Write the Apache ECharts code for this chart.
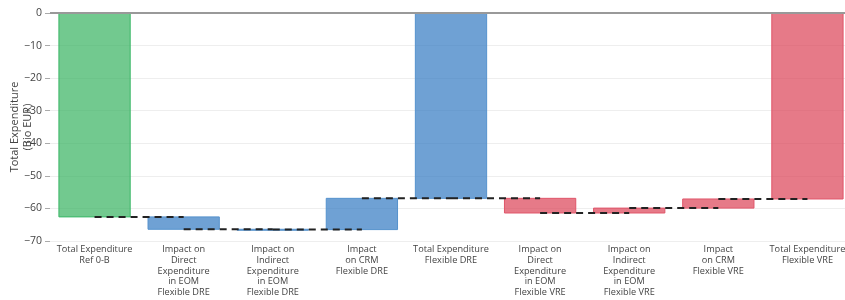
<!DOCTYPE html>
<html>
<head>
<meta charset="utf-8">
<script src="https://cdn.jsdelivr.net/npm/echarts@6/dist/echarts.min.js"></script>
<style>
  html, body { margin: 0; padding: 0; background: #fff; }
  #main { width: 845px; height: 300px; }
</style>
</head>
<body>
<div id="main"></div>
<script>
// waterfall steps (Bio EUR)
var categories = [
    'Total Expenditure\nRef 0-B',
    'Impact on\nDirect\nExpenditure\nin EOM\nFlexible DRE',
    'Impact on\nIndirect\nExpenditure\nin EOM\nFlexible DRE',
    'Impact\non CRM\nFlexible DRE',
    'Total Expenditure\nFlexible DRE',
    'Impact on\nDirect\nExpenditure\nin EOM\nFlexible VRE',
    'Impact on\nIndirect\nExpenditure\nin EOM\nFlexible VRE',
    'Impact\non CRM\nFlexible VRE',
    'Total Expenditure\nFlexible VRE'
];
var measures = ['absolute', 'relative', 'relative', 'relative', 'total', 'relative', 'relative', 'relative', 'total'];
var values = [-62.6, -3.8, -0.1, 9.6, 0, -4.5, 1.5, 2.8, 0];
var groups = ['ref', 'dre', 'dre', 'dre', 'dre', 'vre', 'vre', 'vre', 'vre'];
var yTicks = [0, -10, -20, -30, -40, -50, -60, -70];

var fills = { ref: 'rgba(60,180,100,0.72)', dre: 'rgba(55,125,195,0.72)', vre: 'rgba(220,70,90,0.72)' };
var strokes = { ref: '#3bb768', dre: '#5592cd', vre: '#e0566a' };

// build start / end of every bar
var bars = [];
var levels = [];
var running = 0;
for (var i = 0; i < values.length; i++) {
    var start, end;
    if (measures[i] === 'absolute') {
        start = 0; end = values[i];
    } else if (measures[i] === 'total') {
        start = 0; end = running;
    } else {
        start = running; end = running + values[i];
    }
    running = end;
    levels.push(end);
    bars.push([i, Math.min(start, end), Math.max(start, end), groups[i]]);
}
var connectors = [];
for (var j = 0; j < levels.length - 1; j++) {
    connectors.push([j, j + 1, levels[j]]);
}

var chart = echarts.init(document.getElementById('main'));
chart.setOption({
    animation: false,
    textStyle: { fontFamily: '"Open Sans", sans-serif' },
    grid: { left: 50, top: 13, width: 802, height: 228, containLabel: false, outerBoundsMode: 'none' },
    xAxis: {
        type: 'category',
        data: categories,
        position: 'bottom',
        axisLine: { show: false },
        axisTick: { show: false },
        axisLabel: {
            interval: 0,
            color: '#444',
            fontSize: 9.2,
            lineHeight: 10.8,
            margin: 3
        }
    },
    yAxis: {
        type: 'value',
        min: -70,
        max: 0,
        interval: 10,
        name: 'Total Expenditure\n(Bio EUR)',
        nameLocation: 'middle',
        nameGap: 16,
        nameMoveOverlap: false,
        nameTextStyle: { color: '#444', fontSize: 11, lineHeight: 13 },
        axisLine: { show: false },
        axisTick: { show: true, length: 5, lineStyle: { color: '#aaa' } },
        axisLabel: {
            color: '#444',
            fontSize: 10.5,
            margin: 8,
            formatter: function (v) {
                return yTicks.indexOf(v) >= 0 ? String(v).replace('-', '\u2212') : '';
            }
        },
        splitLine: { lineStyle: { color: '#eeeeee', width: 1 } }
    },
    series: [
        {
            type: 'custom',
            data: bars,
            encode: { x: 0, y: [1, 2] },
            renderItem: function (params, api) {
                var idx = params.dataIndex;
                var g = bars[idx][3];
                var top = api.coord([api.value(0), api.value(2)]);
                var bot = api.coord([api.value(0), api.value(1)]);
                var w = api.size([1, 0])[0] * 0.8;
                return {
                    type: 'rect',
                    shape: { x: top[0] - w / 2, y: top[1], width: w, height: Math.max(bot[1] - top[1], 1) },
                    style: { fill: fills[g], stroke: strokes[g], lineWidth: 1 }
                };
            },
            z: 2
        },
        {
            type: 'custom',
            data: connectors,
            encode: { x: [0, 1], y: 2 },
            renderItem: function (params, api) {
                var a = api.coord([api.value(0), api.value(2)]);
                var b = api.coord([api.value(1), api.value(2)]);
                return {
                    type: 'line',
                    shape: { x1: a[0], y1: a[1], x2: b[0], y2: b[1] },
                    style: { stroke: '#222', lineWidth: 2, lineDash: [7, 5] }
                };
            },
            z: 3
        },
        {
            // zero line across the top
            type: 'line',
            data: [],
            markLine: {
                silent: true,
                symbol: 'none',
                label: { show: false },
                lineStyle: { color: '#999', width: 2, type: 'solid' },
                data: [{ yAxis: 0 }]
            },
            z: 1
        }
    ]
});
</script>
</body>
</html>
